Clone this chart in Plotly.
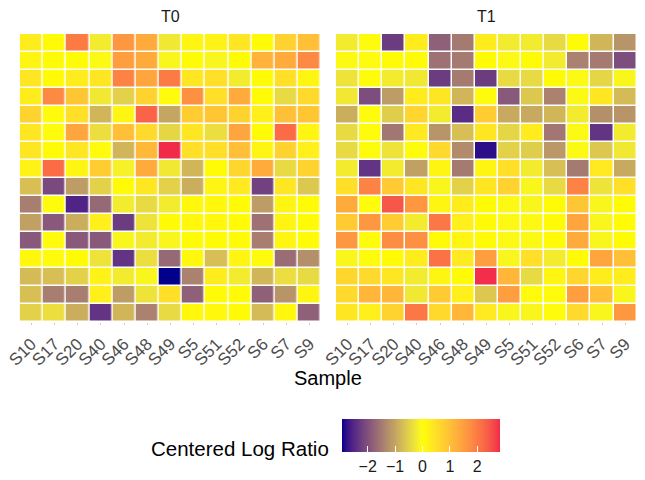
import numpy as np
import plotly.graph_objects as go

samples = ["S10", "S17", "S20", "S40", "S46", "S48", "S49", "S5", "S51", "S52", "S6", "S7", "S9"]
panels = ["T0", "T1"]

t0_values = [
    [0.3, 0.05, 2.0, -0.2, 1.6, 1.3, -0.25, 0.15, 0.2, 0.4, 0.05, 0.7, 1.0],
    [0.15, 0.05, 0.05, -0.05, 1.5, 1.3, -0.1, 0.05, -0.1, 0.05, 1.2, 1.3, 1.8],
    [0.4, 0.05, 0.3, 0.4, 1.9, 1.4, 2.0, 0.4, 0.5, -0.2, 0.05, 0.5, 0.15],
    [0.3, 1.8, 0.9, -0.25, -0.5, 0.7, 0.0, 1.7, 0.5, 1.3, 0.05, -0.4, 0.6],
    [0.7, 0.0, 0.5, -0.8, 0.15, 2.3, -1.0, 0.8, 0.9, 0.7, 0.25, 1.0, 0.9],
    [0.4, 0.0, 1.4, -0.35, 1.0, 0.6, -0.45, 0.4, -0.35, 1.4, 0.05, 2.2, 0.15],
    [0.4, 0.05, 0.4, 0.0, -0.8, 1.1, 2.83, 0.5, 0.5, 1.0, 0.15, 0.7, 0.25],
    [0.2, 2.2, 0.15, 0.8, -0.15, 1.3, -0.25, -0.8, 0.05, 0.65, 1.3, -0.4, 0.7],
    [-0.7, -2.1, -1.1, -0.5, 0.05, 0.4, -0.5, -0.9, 0.15, 0.35, -2.2, 0.4, -0.6],
    [-1.45, 0.0, -2.55, -1.7, -0.2, -0.4, -0.2, 0.1, 0.1, 0.05, -1.1, 0.15, 0.05],
    [-1.05, -1.9, -0.9, 0.25, -2.25, -0.3, 0.05, 0.1, 0.1, 0.05, -1.6, 0.15, 0.05],
    [-1.9, 0.0, -1.9, -1.9, -0.1, -0.2, -0.1, 0.05, 0.05, 0.05, -1.45, 0.15, 0.05],
    [0.1, 0.0, 0.05, -0.3, -2.35, -0.35, -1.7, 0.1, -0.7, 0.15, 0.0, -1.65, -1.25],
    [-0.75, -0.7, -0.5, 0.2, -0.2, -0.1, -2.94, -1.4, 0.3, -0.2, -0.8, -0.35, -0.4],
    [-0.7, -1.45, -1.45, 0.25, -1.1, -0.3, 0.5, -1.8, 0.05, 0.05, -1.8, -1.2, 0.15],
    [-0.5, -0.35, -0.9, -2.35, -0.8, -1.4, -0.4, 0.1, 0.1, 0.05, -0.75, 0.1, -1.8],
]

t1_values = [
    [-0.2, 0.0, -2.25, 0.3, -1.8, -1.5, 0.3, -0.2, -0.2, -0.4, 0.05, -0.8, -1.2],
    [-0.05, 0.0, 0.05, 0.05, -1.6, -1.5, 0.05, -0.05, 0.05, -0.2, -1.4, -1.5, -2.05],
    [-0.3, 0.0, -0.2, -0.25, -2.25, -1.5, -2.25, -0.4, -0.4, 0.05, -0.05, -0.45, -0.1],
    [-0.25, -2.05, -1.1, 0.3, 0.4, -0.8, 0.0, -1.9, -0.6, -1.4, -0.05, 0.4, -0.75],
    [-0.9, 0.0, -0.55, 0.65, -0.2, -2.45, 0.8, -0.95, -0.95, -0.8, -0.2, -1.25, -1.2],
    [-0.4, 0.0, -1.55, 0.35, -1.2, -0.7, 0.4, -0.45, 0.3, -1.55, -0.05, -2.35, -0.2],
    [-0.4, 0.0, -0.3, 0.0, 0.6, -1.3, -2.8, -0.5, -0.55, -1.15, -0.05, -0.6, -0.25],
    [-0.2, -2.35, -0.2, -1.05, 0.15, -1.5, 0.15, 0.5, -0.2, -0.7, -1.5, 0.35, -0.95],
    [0.5, 1.9, 0.85, 0.4, -0.1, -0.5, 0.4, 0.7, -0.1, -0.4, 1.9, -0.3, 0.5],
    [1.3, 0.0, 2.45, 1.6, 0.15, 0.3, 0.05, -0.05, -0.1, 0.05, 0.9, -0.1, 0.05],
    [0.85, 1.6, 0.8, -0.2, 2.05, 0.25, 0.05, -0.05, -0.05, 0.05, 1.4, -0.1, 0.05],
    [1.6, 0.0, 1.75, 1.7, 0.05, 0.15, 0.05, -0.05, -0.05, 0.05, 1.3, -0.1, 0.05],
    [-0.1, 0.0, 0.05, 0.3, 2.1, 0.35, 1.5, -0.1, 0.5, -0.2, 0.05, 1.4, 1.0],
    [0.65, 0.6, 0.4, -0.2, 0.15, 0.05, 2.8, 1.15, -0.4, 0.15, 0.65, 0.3, 0.3],
    [0.6, 1.15, 1.15, -0.25, 0.85, 0.25, -0.6, 1.5, 0.0, 0.0, 1.5, 1.0, -0.1],
    [0.4, 0.25, 0.7, 2.05, 0.6, 1.15, 0.35, -0.1, -0.1, 0.0, 0.6, -0.1, 1.6],
]

colorbar_ticks = [-2, -1, 0, 1, 2]
low_col, mid_col, high_col = "#00008B", "#FFFF00", "#F0104A"

# ---- Lab interpolation (like ggplot's scale_fill_gradient2) ----
def hex2rgb(h):
    h = h.lstrip("#")
    return np.array([int(h[i:i + 2], 16) / 255 for i in (0, 2, 4)])

def srgb2lin(c):
    return np.where(c <= 0.04045, c / 12.92, ((c + 0.055) / 1.055) ** 2.4)

def lin2srgb(c):
    c = np.clip(c, 0, 1)
    return np.where(c <= 0.0031308, 12.92 * c, 1.055 * c ** (1 / 2.4) - 0.055)

M = np.array([[0.4124, 0.3576, 0.1805], [0.2126, 0.7152, 0.0722], [0.0193, 0.1192, 0.9505]])
Minv = np.linalg.inv(M)
WHITE = np.array([0.95047, 1.0, 1.08883])

def f(t):
    d = 6 / 29
    return np.where(t > d ** 3, np.cbrt(t), t / (3 * d * d) + 4 / 29)

def finv(t):
    d = 6 / 29
    return np.where(t > d, t ** 3, 3 * d * d * (t - 4 / 29))

def rgb2lab(rgb):
    xyz = M @ srgb2lin(rgb) / WHITE
    fx, fy, fz = f(xyz)
    return np.array([116 * fy - 16, 500 * (fx - fy), 200 * (fy - fz)])

def lab2hex(lab):
    L, a, b = lab
    fy = (L + 16) / 116
    xyz = np.array([finv(fy + a / 500), finv(fy), finv(fy - b / 200)]) * WHITE
    rgb = lin2srgb(Minv @ xyz)
    r, g, bb = (np.round(rgb * 255)).astype(int)
    return f"#{r:02x}{g:02x}{bb:02x}"

labs = [rgb2lab(hex2rgb(c)) for c in (low_col, mid_col, high_col)]

def gradient2(t):
    if t <= 0.5:
        u = t / 0.5
        return lab2hex(labs[0] * (1 - u) + labs[1] * u)
    u = (t - 0.5) / 0.5
    return lab2hex(labs[1] * (1 - u) + labs[2] * u)

all_vals = np.array(t0_values + t1_values)
zmin, zmax = float(all_vals.min()), float(all_vals.max())
mabs = max(abs(zmin), abs(zmax))
colorscale = []
for p in np.linspace(0, 1, 61):
    v = zmin + p * (zmax - zmin)
    colorscale.append([float(p), gradient2(0.5 + v / (2 * mabs))])

W, H = 645, 480
FONT = "Liberation Sans, Arial, sans-serif"
CB_LEFT, CB_LEN, CB_TOP, CB_THICK = 342, 158, 419, 33

fig = go.Figure()
row_ids = list(range(len(t0_values)))
for i, vals in enumerate([t0_values, t1_values]):
    fig.add_trace(go.Heatmap(
        z=vals, x=samples, y=row_ids,
        xaxis="x" if i == 0 else "x2", yaxis="y" if i == 0 else "y2",
        colorscale=colorscale, zmin=zmin, zmax=zmax,
        xgap=1.5, ygap=1.5,
        showscale=(i == 0),
        colorbar=dict(
            orientation="h", x=(CB_LEFT + CB_LEN / 2) / W, xanchor="center",
            y=(H - CB_TOP) / H, yanchor="top",
            len=CB_LEN, lenmode="pixels", thickness=CB_THICK, thicknessmode="pixels",
            xpad=0, ypad=0, outlinewidth=0,
            tickvals=colorbar_ticks, ticks="inside", ticklen=6, tickcolor="white", tickwidth=1,
            tickfont=dict(size=16, color="#1a1a1a", family=FONT),
        ),
    ))

x_dom = [[19.7 / W, 321 / W], [336 / W, 636.7 / W]]
y_dom = [(H - 321.5) / H, (H - 34) / H]
axis_common = dict(showgrid=False, zeroline=False, showline=False, automargin=False)
layout = dict(
    width=W, height=H, margin=dict(l=0, r=0, t=0, b=0, autoexpand=False),
    paper_bgcolor="white", plot_bgcolor="white",
    font=dict(family=FONT),
    showlegend=False,
)
for i in range(2):
    sfx = "" if i == 0 else "2"
    layout["xaxis" + sfx] = dict(
        domain=x_dom[i], anchor="y" + sfx, tickangle=-45,
        tickfont=dict(size=17, color="#4d4d4d", family=FONT),
        ticks="outside", ticklen=2, tickcolor="#cccccc", ticklabelstandoff=3,
        **axis_common,
    )
    layout["yaxis" + sfx] = dict(
        domain=y_dom, anchor="x" + sfx, autorange="reversed",
        showticklabels=False, ticks="", **axis_common,
    )
fig.update_layout(**layout)

# top-edge white ticks on the colour bar (as ggplot draws them on both edges)
shapes = []
for v in colorbar_ticks:
    xp = (CB_LEFT + (v - zmin) / (zmax - zmin) * CB_LEN) / W
    shapes.append(dict(type="line", xref="paper", yref="paper", x0=xp, x1=xp,
                       y0=(H - CB_TOP) / H, y1=(H - CB_TOP - 6) / H,
                       line=dict(color="white", width=1)))
fig.update_layout(shapes=shapes)

annotations = []
for i, name in enumerate(panels):
    annotations.append(dict(
        text=name, x=(x_dom[i][0] + x_dom[i][1]) / 2, y=(H - 17) / H, xref="paper", yref="paper",
        showarrow=False, xanchor="center", yanchor="middle",
        font=dict(size=16, color="#1a1a1a", family=FONT),
    ))
annotations.append(dict(
    text="Sample", x=328 / W, y=(H - 378) / H, xref="paper", yref="paper",
    showarrow=False, xanchor="center", yanchor="middle",
    font=dict(size=20, color="black", family=FONT),
))
annotations.append(dict(
    text="Centered Log Ratio", x=331 / W, y=(H - 448) / H, xref="paper", yref="paper",
    showarrow=False, xanchor="right", yanchor="middle",
    font=dict(size=20.5, color="black", family=FONT),
))
fig.update_layout(annotations=annotations)

fig.write_html(
    "out.html",
    config={"displayModeBar": False},
    post_script="document.body.style.margin='0';document.body.style.overflow='hidden';",
)
